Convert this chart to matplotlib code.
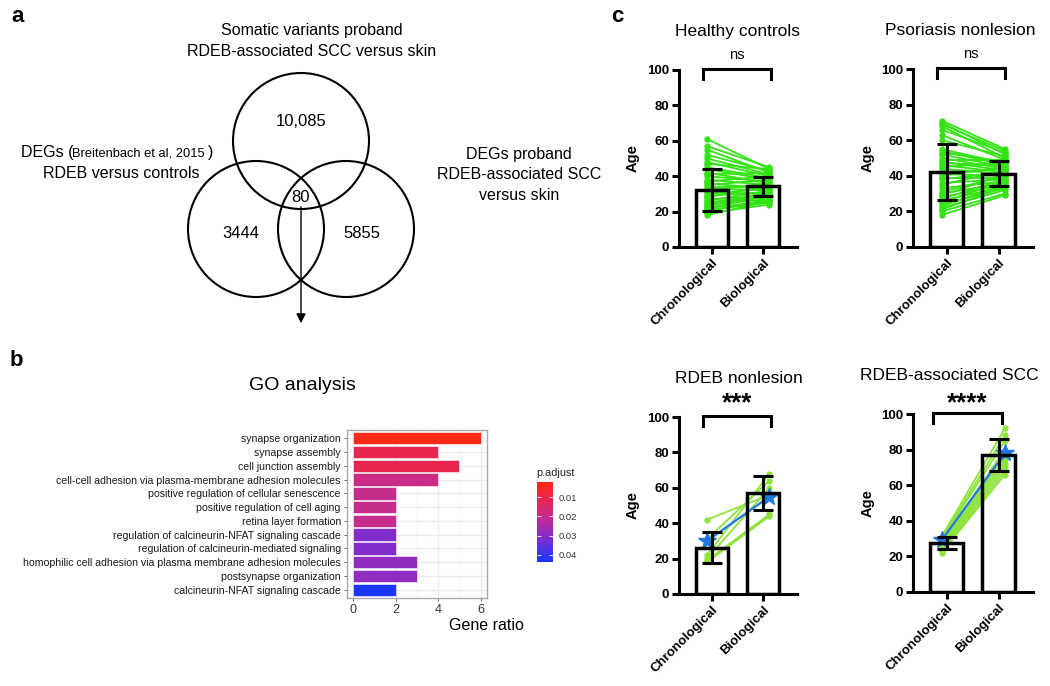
import matplotlib
matplotlib.use('Agg')
import matplotlib.pyplot as plt
import numpy as np
from matplotlib.patches import Circle
from matplotlib.colors import LinearSegmentedColormap, Normalize
from matplotlib.cm import ScalarMappable
from matplotlib import font_manager

plt.rcParams['font.family'] = ['Liberation Sans', 'DejaVu Sans']

# ---------------- data ----------------
venn_top_label = ["Somatic variants proband", "RDEB-associated SCC versus skin"]
venn_right_label = ["DEGs proband", "RDEB-associated SCC", "versus skin"]
venn_counts_top = "10,085"
venn_counts_left = "3444"
venn_counts_right = "5855"
venn_counts_center = "80"

go_terms = [
    "synapse organization",
    "synapse assembly",
    "cell junction assembly",
    "cell-cell adhesion via plasma-membrane adhesion molecules",
    "positive regulation of cellular senescence",
    "positive regulation of cell aging",
    "retina layer formation",
    "regulation of calcineurin-NFAT signaling cascade",
    "regulation of calcineurin-mediated signaling",
    "homophilic cell adhesion via plasma membrane adhesion molecules",
    "postsynapse organization",
    "calcineurin-NFAT signaling cascade",
]
go_ratio = [6, 4, 5, 4, 2, 2, 2, 2, 2, 3, 3, 2]
go_padj = [0.003, 0.011, 0.011, 0.019, 0.020, 0.020, 0.020, 0.031, 0.031, 0.029, 0.029, 0.043]
go_xticks = [0, 2, 4, 6]
padj_ticks = [0.01, 0.02, 0.03, 0.04]

age_categories = ["Chronological", "Biological"]

hc_chron = [61, 57, 55, 52, 50, 48, 47, 45, 44, 42, 41, 40, 38, 37, 36, 35, 34, 33, 32, 31,
            30, 29, 28, 27, 26, 25, 25, 24, 23, 22, 22, 21, 20, 19, 18]
hc_bio = [44, 45, 42, 43, 41, 40, 44, 39, 38, 36, 42, 37, 35, 40, 33, 38, 34, 32, 36, 30,
          33, 31, 35, 29, 32, 28, 30, 27, 31, 26, 29, 25, 27, 24, 26]
hc_mean = [32.2, 34.2]
hc_sd = [11.8, 5.2]

ps_chron = [71, 70, 69, 68, 66, 63, 60, 55, 54, 53, 52, 50, 49, 48, 47, 46, 45, 44, 42, 41,
            40, 39, 38, 36, 35, 33, 31, 30, 29, 28, 27, 26, 25, 24, 23, 22, 21, 20, 18]
ps_bio = [55, 52, 54, 50, 53, 49, 51, 47, 46, 48, 45, 44, 49, 43, 46, 42, 47, 41, 44, 40,
          45, 39, 42, 38, 43, 37, 40, 36, 41, 35, 38, 34, 37, 33, 35, 32, 34, 30, 29]
ps_mean = [42.2, 41.2]
ps_sd = [15.8, 7.2]

rn_chron = [42, 31, 22, 20, 19, 18]
rn_bio = [56, 64, 68, 60, 45, 44]
rn_blue = [30, 55]
rn_mean = [26.2, 57.0]
rn_sd = [8.8, 9.5]

scc_chron = [31, 30, 29, 28, 27, 26, 25, 24, 23, 22]
scc_bio = [92, 88, 85, 80, 76, 74, 72, 70, 68, 66]
scc_blue = [29, 78]
scc_mean = [27.5, 77.0]
scc_sd = [3.5, 9.0]

yticks_age = [0, 20, 40, 60, 80, 100]

# ---------------- figure ----------------
W, H = 1050, 686
fig = plt.figure(figsize=(10.5, 6.86), dpi=100)


def px_axes(l, t, r, b, **kw):
    return fig.add_axes([l / W, 1 - b / H, (r - l) / W, (b - t) / H], **kw)


bg = fig.add_axes([0, 0, 1, 1], zorder=-5)
bg.set_xlim(0, W)
bg.set_ylim(H, 0)
bg.axis('off')

# panel letters
bg.text(18, 16, 'a', fontsize=16, fontweight='bold', ha='center', va='center')
bg.text(16, 360, 'b', fontsize=16, fontweight='bold', ha='center', va='center')
bg.text(617, 16, 'c', fontsize=16, fontweight='bold', ha='center', va='center')

# ---------------- Venn ----------------
for (cx, cy) in [(301, 141), (256, 229), (346, 229)]:
    bg.add_patch(Circle((cx, cy), 68, fill=False, lw=1.5, ec='black'))
bg.text(312, 31, venn_top_label[0], fontsize=11.5, ha='center', va='center')
bg.text(312, 52, venn_top_label[1], fontsize=11.5, ha='center', va='center')
bg.text(21, 153, 'DEGs (', fontsize=11.5, ha='left', va='center')
bg.text(72, 154, 'Breitenbach et al, 2015', fontsize=9.3, ha='left', va='center')
bg.text(208, 153, ')', fontsize=11.5, ha='left', va='center')
bg.text(121, 173, 'RDEB versus controls', fontsize=11.5, ha='center', va='center')
for i, s in enumerate(venn_right_label):
    bg.text(519, 154 + i * 20.5, s, fontsize=11.5, ha='center', va='center')
bg.text(301, 122, venn_counts_top, fontsize=12, ha='center', va='center')
bg.text(301, 198, venn_counts_center, fontsize=12, ha='center', va='center')
bg.text(241, 234, venn_counts_left, fontsize=12, ha='center', va='center')
bg.text(362, 234, venn_counts_right, fontsize=12, ha='center', va='center')
bg.annotate('', xy=(301, 326), xytext=(301, 204),
            arrowprops=dict(arrowstyle='-|>', lw=1.0, color='black', mutation_scale=14))

# ---------------- GO analysis ----------------
names = {f.name for f in font_manager.fontManager.ttflist}
if 'Liberation Sans Narrow' in names:
    go_font = dict(family=['Liberation Sans Narrow', 'DejaVu Sans'], size=9.2)
else:
    go_font = dict(family=['Liberation Sans', 'DejaVu Sans'], size=7.6)

cmap = LinearSegmentedColormap.from_list(
    'padj', [(0.0, '#FF2A12'), (0.2, '#E8264C'), (0.43, '#C62C8C'),
             (0.67, '#8A2CC8'), (1.0, '#1538FF')])
norm = Normalize(vmin=0.0021, vmax=0.0437)

axg = px_axes(347, 430, 487, 598)
n = len(go_terms)
ypos = np.arange(n)[::-1]
axg.set_xlim(-0.3, 6.3)
axg.set_ylim(-0.6, n - 0.4)
for v in [1, 3, 5]:
    axg.axvline(v, color='#F2F2F2', lw=0.6, zorder=0)
for v in go_xticks:
    axg.axvline(v, color='#EBEBEB', lw=1.0, zorder=0)
for y in ypos:
    axg.axhline(y, color='#EBEBEB', lw=1.0, zorder=0)
axg.barh(ypos, go_ratio, height=0.9, color=cmap(norm(np.array(go_padj))),
         edgecolor='white', linewidth=0.4, zorder=2)
axg.set_yticks(ypos)
axg.set_yticklabels(go_terms, fontdict=go_font, color='#1A1A1A')
axg.set_xticks(go_xticks)
axg.set_xticklabels([str(v) for v in go_xticks], fontsize=9, color='#333333')
axg.tick_params(axis='both', length=2.5, width=0.6, color='#555555', pad=2)
for s in axg.spines.values():
    s.set_color('#AAAAAA')
    s.set_linewidth(1.0)
bg.text(302, 386, 'GO analysis', fontsize=14, ha='center', va='center')
bg.text(486, 626, 'Gene ratio', fontsize=11.5, ha='center', va='center')

cax = px_axes(537, 482, 553, 562)
cb = fig.colorbar(ScalarMappable(norm=norm, cmap=cmap), cax=cax)
cax.invert_yaxis()
cb.outline.set_visible(False)
cb.set_ticks(padj_ticks)
cb.set_ticklabels([f'{t:.2f}' for t in padj_ticks])
cax.yaxis.set_ticks_position('both')
cax.tick_params(axis='y', direction='in', length=3, width=0.6, color='white',
                labelsize=6.8, labelcolor='#333333', pad=4, labelleft=False, labelright=True)
bg.text(536, 473, 'p.adjust', fontsize=7.8, ha='left', va='center', color='#222222')

# ---------------- Age panels ----------------
panels = [
    dict(title='Healthy controls', box=(679, 70, 797, 247), chron=hc_chron, bio=hc_bio,
         mean=hc_mean, sd=hc_sd, blue=None, green='#33E314', sig='ns', sig_y=108.5,
         title_x=0.49, bracket=(-0.18, 1.16), age_x=-0.39),
    dict(title='Psoriasis nonlesion', box=(913, 69, 1033, 247), chron=ps_chron, bio=ps_bio,
         mean=ps_mean, sd=ps_sd, blue=None, green='#33E314', sig='ns', sig_y=108.5,
         title_x=0.25, bracket=(-0.19, 1.12), age_x=-0.375),
    dict(title='RDEB nonlesion', box=(679, 417, 797, 594), chron=rn_chron, bio=rn_bio,
         mean=rn_mean, sd=rn_sd, blue=rn_blue, green='#8DE33A', sig='***', sig_y=103.5,
         title_x=0.53, bracket=(-0.18, 1.16), age_x=-0.39),
    dict(title='RDEB-associated SCC', box=(913, 414, 1033, 592), chron=scc_chron, bio=scc_bio,
         mean=scc_mean, sd=scc_sd, blue=scc_blue, green='#8DE33A', sig='****', sig_y=102.0,
         title_x=0.04, bracket=(-0.27, 1.06), age_x=-0.375),
]

xc = np.arange(len(age_categories))
x_pts = [-0.1, 1.12]
for p in panels:
    ax = px_axes(*p['box'])
    ax.set_facecolor('none')
    ax.set_xlim(-0.65, 1.66)
    ax.set_ylim(0, 100)
    ax.bar(xc, p['mean'], width=0.63, color='white', edgecolor='none', zorder=1)
    for c, b in zip(p['chron'], p['bio']):
        ax.plot(x_pts, [c, b], '-o', color=p['green'], lw=1.3, ms=3.5, zorder=2,
                clip_on=False)
    if p['blue'] is not None:
        ax.plot(x_pts, p['blue'], '-', color='#1F78E0', lw=1.6, zorder=3)
        ax.plot(x_pts, p['blue'], '*', color='#1F78E0', ms=13, zorder=3, clip_on=False)
    ax.bar(xc, p['mean'], width=0.63, color='none', edgecolor='black', lw=2.5, zorder=4)
    ax.errorbar(xc, p['mean'], yerr=p['sd'], fmt='none', ecolor='black',
                elinewidth=2.2, capsize=7, capthick=2.2, zorder=5)
    for s in ['top', 'right']:
        ax.spines[s].set_visible(False)
    for s in ['left', 'bottom']:
        ax.spines[s].set_linewidth(2.2)
    ax.set_yticks(yticks_age)
    ax.set_yticklabels([str(v) for v in yticks_age], fontsize=9.5, fontweight='bold')
    ax.set_xticks(xc)
    ax.set_xticklabels(age_categories, fontsize=9.5, fontweight='bold', rotation=45,
                       ha='right', rotation_mode='anchor')
    ax.tick_params(axis='both', length=5, width=2.2, pad=2)
    ax.text(p['age_x'], 0.5, 'Age', transform=ax.transAxes, rotation=90,
            fontsize=10.5, fontweight='bold', ha='center', va='center')
    ax.text(p['title_x'], 121.5, p['title'], fontsize=12.5, ha='center', va='center',
            clip_on=False)
    b0, b1 = p['bracket']
    ax.plot([b0, b0, b1, b1], [95, 100.5, 100.5, 95], color='black', lw=2.2,
            clip_on=False, solid_joinstyle='miter')
    if p['sig'] == 'ns':
        ax.text((b0 + b1) / 2, p['sig_y'], 'ns', fontsize=10.5, ha='center', va='center')
    else:
        ax.text((b0 + b1) / 2, p['sig_y'], p['sig'], fontsize=18.5, fontweight='bold',
                ha='center', va='baseline')

fig.savefig('out.png', dpi=100)
